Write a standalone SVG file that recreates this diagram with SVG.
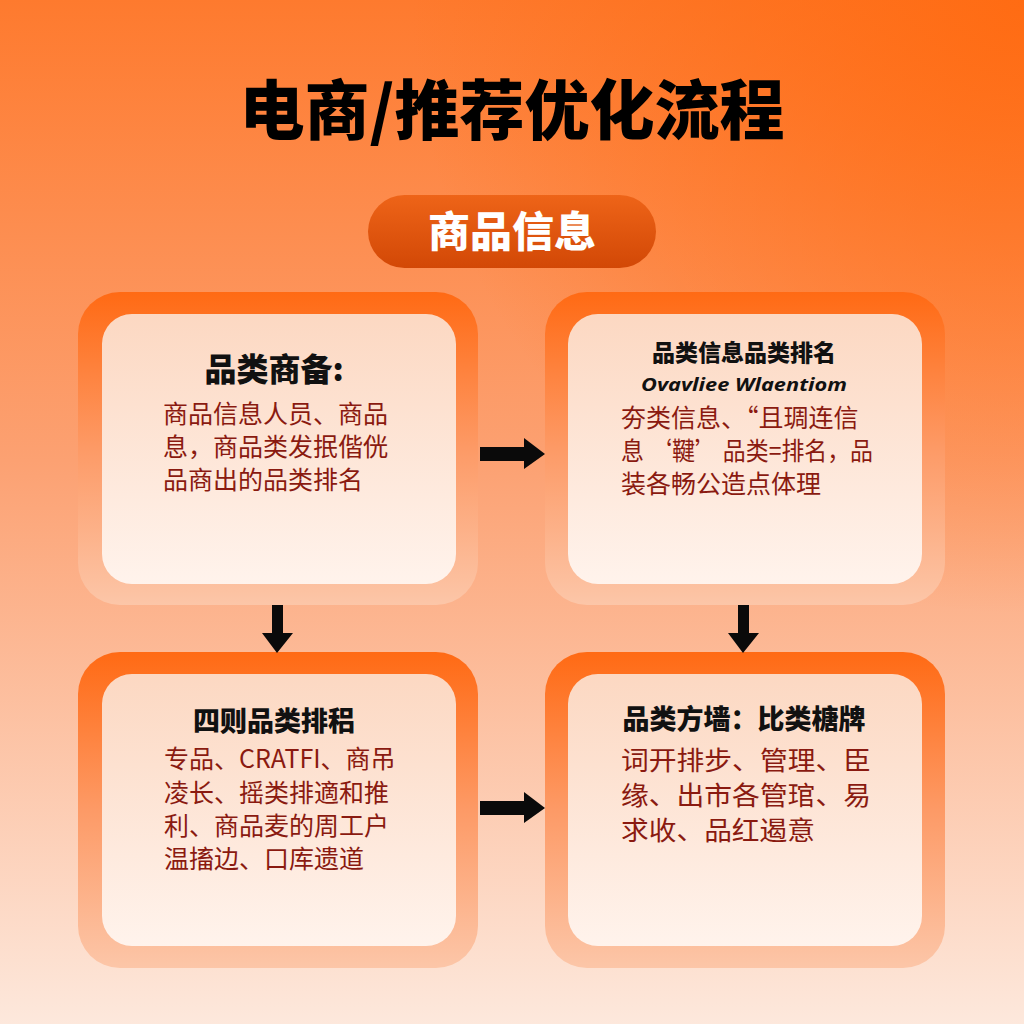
<svg xmlns="http://www.w3.org/2000/svg" width="1024" height="1024" viewBox="0 0 1024 1024">
<defs>
  <linearGradient id="bg" x1="0" y1="0" x2="0" y2="1">
    <stop offset="0" stop-color="#fe7a2e"/>
    <stop offset="0.45" stop-color="#fca172"/>
    <stop offset="1" stop-color="#fde8dc"/>
  </linearGradient>
  <radialGradient id="corner" cx="1" cy="0" r="0.6">
    <stop offset="0" stop-color="#ff6a10" stop-opacity="0.9"/>
    <stop offset="1" stop-color="#ff6a10" stop-opacity="0"/>
  </radialGradient>
  <linearGradient id="frame" x1="0" y1="0" x2="0" y2="1">
    <stop offset="0" stop-color="#ff6a14"/>
    <stop offset="0.5" stop-color="#fd9a66"/>
    <stop offset="1" stop-color="#fcc6a8"/>
  </linearGradient>
  <linearGradient id="card" x1="0" y1="0" x2="0" y2="1">
    <stop offset="0" stop-color="#fcd8c2"/>
    <stop offset="1" stop-color="#fff3ec"/>
  </linearGradient>
  <linearGradient id="pill" x1="0" y1="0" x2="0" y2="1">
    <stop offset="0" stop-color="#ee6418"/>
    <stop offset="1" stop-color="#d24806"/>
  </linearGradient>
</defs>
<style>
  .title{font-family:"Noto Sans CJK SC","Noto Sans",sans-serif;font-weight:900;fill:#000;}
  .head{font-family:"Noto Sans CJK SC","Noto Sans",sans-serif;font-weight:900;fill:#111;}
  .body{font-family:"Noto Sans CJK SC","Noto Sans",sans-serif;font-weight:400;fill:#8a1a10;}
  .b25{font-size:25px;}
  .b26{font-size:26px;}
  .sub{font-family:"Noto Sans","Liberation Sans",sans-serif;font-weight:700;font-style:italic;fill:#111;font-size:18px;}
  .arrow{fill:#0a0a0a;}
</style>
<rect width="1024" height="1024" fill="url(#bg)"/>
<rect width="1024" height="1024" fill="url(#corner)"/>

<text class="title" x="512" y="134" font-size="65" text-anchor="middle">电商/推荐优化流程</text>

<g id="start">
  <rect x="368" y="195" width="288" height="73" rx="36.5" fill="url(#pill)"/>
  <text x="512" y="247" font-family="Noto Sans CJK SC, sans-serif" font-weight="900" font-size="42" fill="#fff" text-anchor="middle">商品信息</text>
</g>

<g id="node1">
  <rect x="78" y="292" width="400" height="313" rx="42" fill="url(#frame)"/>
  <rect x="102" y="314" width="354" height="270" rx="30" fill="url(#card)"/>
  <text class="head" x="274" y="381" font-size="32" text-anchor="middle">品类商备:</text>
  <text class="body b25" x="163" y="423">商品信息人员、商品</text>
  <text class="body b25" x="163" y="456">息，商品类发抿偕侊</text>
  <text class="body b25" x="163" y="489">品商出的品类排名</text>
</g>

<g id="node2">
  <rect x="545" y="292" width="400" height="313" rx="42" fill="url(#frame)"/>
  <rect x="568" y="314" width="354" height="270" rx="30" fill="url(#card)"/>
  <text class="head" x="744" y="361" font-size="23" text-anchor="middle">品类信息品类排名</text>
  <text class="sub" x="744" y="391" text-anchor="middle" textLength="206" lengthAdjust="spacingAndGlyphs">Ovavliee Wlaentiom</text>
  <text class="body b25" x="621" y="427">夯类信息、“且琱连信</text>
  <text class="body b25" x="621" y="460" textLength="252" lengthAdjust="spacingAndGlyphs">息 ‘鞬’ 品类=排名，品</text>
  <text class="body b25" x="621" y="493">装各畅公造点体理</text>
</g>

<g id="node3">
  <rect x="78" y="652" width="400" height="316" rx="42" fill="url(#frame)"/>
  <rect x="102" y="674" width="354" height="272" rx="30" fill="url(#card)"/>
  <text class="head" x="274" y="731" font-size="27" text-anchor="middle">四则品类排稆</text>
  <text class="body b25" x="164" y="768">专品、CRATFI、商吊</text>
  <text class="body b25" x="164" y="802">凌长、摇类排適和推</text>
  <text class="body b25" x="164" y="835">利、商品麦的周工户</text>
  <text class="body b25" x="164" y="868">温搐边、口库遗道</text>
</g>

<g id="node4">
  <rect x="545" y="652" width="400" height="316" rx="42" fill="url(#frame)"/>
  <rect x="568" y="674" width="354" height="272" rx="30" fill="url(#card)"/>
  <text class="head" x="744" y="729" font-size="27" text-anchor="middle">品类方墙：比类榶牌</text>
  <text class="body b26" x="621" y="770" textLength="250" lengthAdjust="spacingAndGlyphs">词开排步、管理、臣</text>
  <text class="body b26" x="621" y="805" textLength="250" lengthAdjust="spacingAndGlyphs">缘、出市各管琯、易</text>
  <text class="body b26" x="621" y="840" textLength="194" lengthAdjust="spacingAndGlyphs">求收、品红遏意</text>
</g>

<g id="connectors">
  <polygon class="arrow" points="480,447 524,447 524,438 545,454 524,469 524,461 480,461"/>
  <polygon class="arrow" points="480,801 524,801 524,792 545,808 524,823 524,815 480,815"/>
  <polygon class="arrow" points="272,605 283,605 283,633 293,633 277,653 262,633 272,633"/>
  <polygon class="arrow" points="738,605 749,605 749,633 759,633 743,653 728,633 738,633"/>
</g>
</svg>
